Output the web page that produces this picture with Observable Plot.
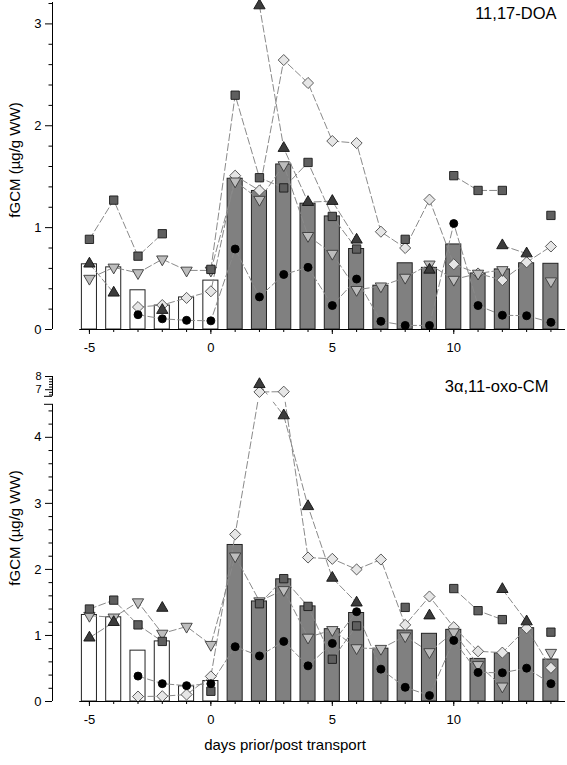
<!DOCTYPE html>
<html><head><meta charset="utf-8">
<script src="https://cdn.jsdelivr.net/npm/d3@7"></script>
<script src="https://cdn.jsdelivr.net/npm/@observablehq/plot@0.6"></script>
<style>
body{margin:0;background:#fff}
#chart svg{display:block;overflow:visible}
</style>
</head><body><div id="chart"></div>
<script>
// ---------- data ----------
const days = [-5,-4,-3,-2,-1,0,1,2,3,4,5,6,7,8,9,10,11,12,13,14];

// 11,17-DOA
const doaBar      = [0.64,0.61,0.385,0.235,0.315,0.48,1.48,1.36,1.62,1.235,1.11,0.79,0.43,0.65,0.605,0.835,0.55,0.59,0.65,0.645];
const doaSquare   = [0.885,1.27,0.72,0.94,null,0.59,2.30,1.49,1.39,1.64,1.11,0.79,null,0.885,null,1.51,1.365,1.365,null,1.12];
const doaTriangle = [0.645,0.36,null,0.19,null,null,null,3.18,1.78,1.25,1.26,0.88,null,null,0.585,null,null,0.825,0.745,null];
const doaInvTri   = [0.50,0.61,0.555,0.69,0.58,0.58,1.455,1.275,1.615,0.92,0.745,0.39,0.425,0.51,0.64,0.49,0.55,0.585,null,0.475];
const doaDiamond  = [null,null,0.22,0.24,0.31,0.375,1.51,1.365,2.645,2.42,1.85,1.83,0.96,0.80,1.275,0.64,0.55,0.485,0.66,0.815];
const doaCircle   = [null,null,0.145,0.105,0.09,0.085,0.79,0.32,0.54,0.61,0.235,0.495,0.08,0.04,0.04,1.04,0.235,0.14,0.135,0.07];

// 3α,11-oxo-CM
const cmBar      = [1.31,1.275,0.77,0.91,0.23,0.31,2.37,1.515,1.85,1.44,1.095,1.34,0.80,1.075,1.025,1.085,0.645,0.73,1.11,0.635];
const cmSquare   = [1.40,1.535,1.16,0.91,null,0.155,null,1.48,1.86,1.44,0.64,1.145,null,1.425,null,1.71,1.375,1.24,null,1.05];
const cmTriangle = [0.965,1.20,null,1.415,null,null,null,7.41,4.33,2.955,1.87,1.495,null,null,1.30,null,null,1.70,1.21,null];
const cmInvTri   = [1.30,1.275,1.505,1.03,1.135,0.86,2.20,1.52,1.69,0.97,1.085,0.81,0.80,0.99,0.75,1.05,0.555,0.23,null,0.74];
const cmDiamond  = [null,null,0.075,0.08,0.105,0.38,2.53,6.83,6.85,2.18,2.16,2.0,2.15,1.16,1.59,1.125,0.76,0.74,1.11,0.51];
const cmCircle   = [null,null,0.385,0.27,0.24,0.27,0.83,0.69,0.91,0.54,0.88,1.36,0.49,0.215,0.09,0.925,0.44,0.435,0.505,0.27];

const majorXTicks = [-5,0,5,10];
const topYTicks = [0,1,2,3];
const botYTicks = [0,1,2,3,4];
const botUpperTicks = [7,8];
const panelTitles = ["11,17-DOA","3α,11-oxo-CM"];
const yTitle = "fGCM (µg/g WW)";
const xTitle = "days prior/post transport";

// ---------- styling ----------
const FONT = "'Liberation Sans', Arial, sans-serif";
const XDOM = [-6.52, 14.6];
const XLINE0 = -5.4;
const HALF = 0.31;

const seriesStyle = [
  {key:"diamond",  symbol:"diamond2", r:5.0, fill:"#e6e6e6", stroke:"#4a4a4a", rotate:0},
  {key:"invtri",   symbol:"triangle", r:4.2, fill:"#bdbdbd", stroke:"#3a3a3a", rotate:180},
  {key:"square",   symbol:"square",   r:4.7, fill:"#5f5f5f", stroke:"#1a1a1a", rotate:0},
  {key:"triangle", symbol:"triangle", r:4.2, fill:"#3c3c3c", stroke:"#111",    rotate:0},
  {key:"circle",   symbol:"circle",   r:4.0, fill:"#000",    stroke:"#000",    rotate:0}
];

function rows(arr, t){ return days.map((d,i)=>({day:d, v:arr[i]==null?NaN:t(arr[i])})); }

function panel(cfg){
  const t = cfg.t || (v=>v);
  const bars = days.map((d,i)=>({day:d, v:t(cfg.bar[i]), pre:d<=0}));
  const marks = [];
  marks.push(Plot.rectY(bars, {x1:d=>d.day-HALF, x2:d=>d.day+HALF, y1:0, y2:"v",
    fill:d=>d.pre?"#ffffff":"#808080", stroke:"#222", strokeWidth:1}));
  for (const s of seriesStyle){
    marks.push(Plot.line(rows(cfg[s.key], t), {x:"day", y:"v", stroke:"#8a8a8a", strokeWidth:1, strokeDasharray:"7,3"}));
  }
  if (cfg.extra) marks.push(...cfg.extra.before);
  for (const s of seriesStyle){
    marks.push(Plot.dot(rows(cfg[s.key], t).filter(d=>!isNaN(d.v)), {x:"day", y:"v", symbol:s.symbol, r:s.r,
      fill:s.fill, stroke:s.stroke, strokeWidth:0.9, rotate:s.rotate}));
  }
  marks.push(Plot.ruleY([0], {x1:XLINE0, x2:XDOM[1], stroke:"#000", strokeWidth:1}));
  marks.push(Plot.axisX({ticks:days, tickSize:3, tickFormat:()=>"", label:null}));
  marks.push(Plot.axisX({ticks:majorXTicks, tickSize:5, tickPadding:8, tickFormat:d=>String(d), label:null, fontSize:13}));
  marks.push(...cfg.yAxis);
  marks.push(Plot.text([cfg.title], {text:d=>d, frameAnchor:"top-right", textAnchor:"end", lineAnchor:"top",
    dx:cfg.titleDx, dy:cfg.titleDy, fontSize:16.5, fill:"#000"}));
  marks.push(Plot.text([yTitle], {text:d=>d, frameAnchor:"left", rotate:-90, textAnchor:"middle", lineAnchor:"middle",
    dx:-37, dy:cfg.yTitleDy, fontSize:15, fill:"#000"}));
  if (cfg.xTitle) marks.push(Plot.text([cfg.xTitle], {text:d=>d, frameAnchor:"bottom", textAnchor:"middle", lineAnchor:"middle",
    dx:-24, dy:44, fontSize:15, fill:"#000"}));
  return Plot.plot({
    width:567, height:cfg.height, marginLeft:52, marginRight:2, marginTop:cfg.mt, marginBottom:cfg.mb,
    x:{domain:XDOM}, y:{domain:cfg.ydom},
    style:{fontFamily:FONT, fontSize:"13px", background:"white", color:"#000", overflow:"visible"},
    marks
  });
}

const minor = (a,b,step)=>d3.range(a,b+1e-9,step).map(v=>+v.toFixed(2)).filter(v=>Math.abs(v-Math.round(v))>1e-6);

// ---- top panel ----
const topY = 3.21;
const plotTop = panel({
  bar:doaBar, square:doaSquare, triangle:doaTriangle, invtri:doaInvTri, diamond:doaDiamond, circle:doaCircle,
  height:360, mt:2, mb:31, ydom:[0, topY],
  title:panelTitles[0], titleDx:-9, titleDy:5, yTitleDy:-6,
  yAxis:[
    Plot.ruleX([XDOM[0]], {y1:0, y2:topY, stroke:"#000", strokeWidth:1}),
    Plot.axisY({ticks:minor(0,3.2,0.2), tickSize:3.5, tickFormat:()=>"", label:null}),
    Plot.axisY({ticks:topYTicks, tickSize:7, tickPadding:4, tickFormat:d=>String(d), label:null, fontSize:13})
  ]
});

// ---- bottom panel (broken axis) ----
const LO = 4.5, HI = 6.5, GAPT = 0.121, UK = 0.2;
const brk = v => v <= LO ? v : (v >= HI ? LO + GAPT + (v-HI)*UK : LO + (v-LO)*GAPT/(HI-LO));
const botTop = brk(8);
const upperPos = botUpperTicks.map(brk);
const plotBottom = panel({
  bar:cmBar, square:cmSquare, triangle:cmTriangle, invtri:cmInvTri, diamond:cmDiamond, circle:cmCircle,
  t:brk, height:405, mt:16, mb:64, ydom:[0, botTop],
  title:panelTitles[1], titleDx:-17, titleDy:4, yTitleDy:-11, xTitle:xTitle,
  extra:{before:[
    Plot.rectY([0], {x1:-6.3, x2:XDOM[1], y1:LO+0.03, y2:LO+GAPT+0.02, fill:"white"})
  ]},
  yAxis:[
    Plot.ruleX([XDOM[0]], {y1:0, y2:LO, stroke:"#000", strokeWidth:1}),
    Plot.ruleX([XDOM[0]], {y1:brk(HI), y2:botTop, stroke:"#000", strokeWidth:1}),
    Plot.axisY({ticks:minor(0,4.4,0.2), tickSize:3.5, tickFormat:()=>"", label:null}),
    Plot.axisY({ticks:[6.6,6.8,7.2,7.4,7.6,7.8].map(brk), tickSize:3, tickFormat:()=>"", label:null}),
    Plot.axisY({ticks:[LO, brk(HI)], tickSize:8, tickFormat:()=>"", label:null}),
    Plot.axisY({ticks:botYTicks, tickSize:7, tickPadding:4, tickFormat:d=>String(d), label:null, fontSize:13}),
    Plot.axisY({ticks:upperPos, tickSize:7, tickPadding:4,
      tickFormat:d=>String(botUpperTicks[upperPos.findIndex(x=>Math.abs(x-d)<1e-9)]), label:null, fontSize:11})
  ]
});

document.getElementById("chart").append(plotTop, plotBottom);
</script>
</body></html>
